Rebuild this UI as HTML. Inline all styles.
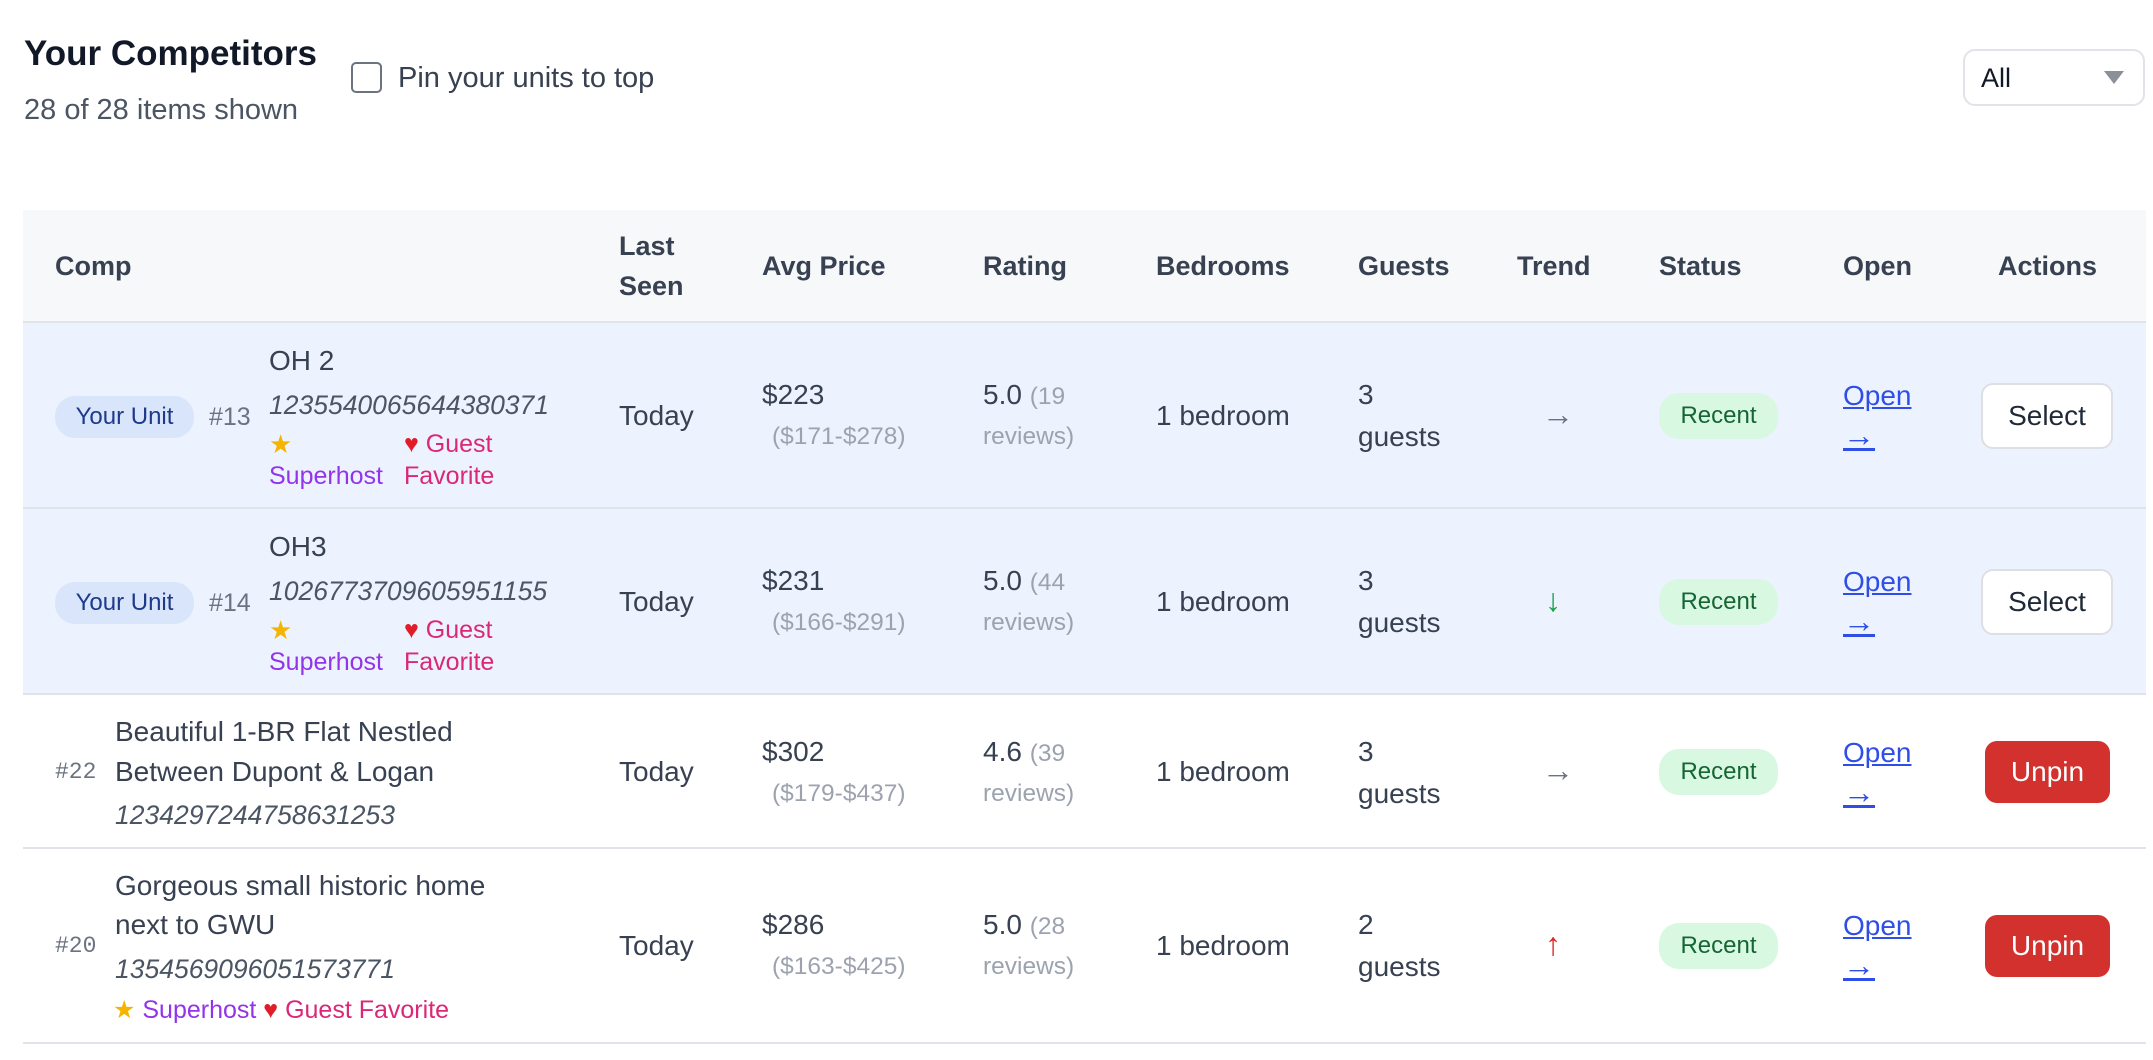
<!DOCTYPE html>
<html><head><meta charset="utf-8"><style>
body{margin:0;width:2153px;height:1060px;background:#fff;position:relative;overflow:hidden;font-family:"Liberation Sans",sans-serif;color:#374151}
.a{position:absolute;white-space:nowrap;line-height:40px;font-size:28px}
.h{font-weight:bold;color:#374151;font-size:27px}
.g{color:#9ca3af}
.i{font-style:italic;font-size:26.5px;color:#4b5563}
.sh{color:#9333ea;font-size:25px}
.gf{color:#db2777;font-size:25px}
.st{color:#f4b400}
.ht{color:#e11d2a}
.pill{position:absolute;border-radius:20px;text-align:center;font-size:24px;line-height:46px}
.lnk{color:#2f4ee8;text-decoration:underline}
.ar{font-size:32px}
.row{position:absolute;left:23px;width:2123px}
</style></head><body>
<div class="a" style="left:24px;top:34px;font-size:35px;font-weight:bold;color:#111827">Your Competitors</div>
<div class="a" style="left:24px;top:90px;font-size:29px;color:#4b5563">28 of 28 items shown</div>
<div style="position:absolute;left:351px;top:62px;width:27px;height:27px;border:2px solid #6b7280;border-radius:5px"></div>
<div class="a" style="left:398px;top:58px;font-size:29px;color:#374151">Pin your units to top</div>
<div style="position:absolute;left:1963px;top:49px;width:182px;height:57px;border:2px solid #e0e3e8;border-radius:12px;box-sizing:border-box"></div>
<div class="a" style="left:1981px;top:58px;font-size:27px;color:#111827">All</div>
<div style="position:absolute;left:2104px;top:71px;width:0;height:0;border-left:10px solid transparent;border-right:10px solid transparent;border-top:13px solid #8a8f98"></div>

<div class="row" style="top:210px;height:111px;background:#f7f8fa;border-bottom:2px solid #e0e3e8"></div>
<div class="row" style="top:323px;height:184px;background:#edf3fe;border-bottom:2px solid #e0e3e8"></div>
<div class="row" style="top:509px;height:184px;background:#edf3fe;border-bottom:2px solid #e0e3e8"></div>
<div class="row" style="top:695px;height:152px;border-bottom:2px solid #e0e3e8"></div>
<div class="row" style="top:849px;height:193px;border-bottom:2px solid #e0e3e8"></div>

<!-- header -->
<div class="a h" style="left:55px;top:246px">Comp</div>
<div class="a h" style="left:619px;top:226px">Last</div>
<div class="a h" style="left:619px;top:266px">Seen</div>
<div class="a h" style="left:762px;top:246px">Avg Price</div>
<div class="a h" style="left:983px;top:246px">Rating</div>
<div class="a h" style="left:1156px;top:246px">Bedrooms</div>
<div class="a h" style="left:1358px;top:246px">Guests</div>
<div class="a h" style="left:1517px;top:246px">Trend</div>
<div class="a h" style="left:1659px;top:246px">Status</div>
<div class="a h" style="left:1843px;top:246px">Open</div>
<div class="a h" style="left:1998px;top:246px">Actions</div>

<!-- row 1 -->
<div class="pill" style="left:55px;top:396px;width:139px;height:42px;line-height:42px;background:#d9e5fb;color:#1e3a8a">Your Unit</div>
<div class="a" style="left:209px;top:397px;font-size:25px;color:#6b7280">#13</div>
<div class="a" style="left:269px;top:341px">OH 2</div>
<div class="a i" style="left:269px;top:385px">1235540065644380371</div>
<div class="a st" style="left:269px;top:424px;font-size:26px">★</div>
<div class="a gf" style="left:404px;top:424px"><span class="ht">♥</span> Guest</div>
<div class="a sh" style="left:269px;top:456px">Superhost</div>
<div class="a gf" style="left:404px;top:456px">Favorite</div>
<div class="a" style="left:619px;top:396px">Today</div>
<div class="a" style="left:762px;top:375px">$223</div>
<div class="a g" style="left:772px;top:417px;font-size:24.5px">($171-$278)</div>
<div class="a" style="left:983px;top:375px">5.0 <span class="g" style="font-size:24.5px">(19</span></div>
<div class="a g" style="left:983px;top:417px;font-size:24.5px">reviews)</div>
<div class="a" style="left:1156px;top:396px">1 bedroom</div>
<div class="a" style="left:1358px;top:375px">3</div>
<div class="a" style="left:1358px;top:417px">guests</div>
<div class="a ar" style="left:1542px;top:394px;color:#6b7280">→</div>
<div class="pill" style="left:1659px;top:393px;width:119px;height:46px;background:#d9f8e2;color:#166534">Recent</div>
<div class="a lnk" style="left:1843px;top:376px">Open</div>
<div class="a lnk ar" style="left:1843px;top:415px">→</div>
<div class="pill" style="left:1981px;top:383px;width:132px;height:66px;line-height:62px;background:#fff;border:2px solid #dedfe3;box-sizing:border-box;border-radius:12px;font-size:28px;color:#1f2937">Select</div>

<!-- row 2 -->
<div class="pill" style="left:55px;top:582px;width:139px;height:42px;line-height:42px;background:#d9e5fb;color:#1e3a8a">Your Unit</div>
<div class="a" style="left:209px;top:583px;font-size:25px;color:#6b7280">#14</div>
<div class="a" style="left:269px;top:527px">OH3</div>
<div class="a i" style="left:269px;top:571px">1026773709605951155</div>
<div class="a st" style="left:269px;top:610px;font-size:26px">★</div>
<div class="a gf" style="left:404px;top:610px"><span class="ht">♥</span> Guest</div>
<div class="a sh" style="left:269px;top:642px">Superhost</div>
<div class="a gf" style="left:404px;top:642px">Favorite</div>
<div class="a" style="left:619px;top:582px">Today</div>
<div class="a" style="left:762px;top:561px">$231</div>
<div class="a g" style="left:772px;top:603px;font-size:24.5px">($166-$291)</div>
<div class="a" style="left:983px;top:561px">5.0 <span class="g" style="font-size:24.5px">(44</span></div>
<div class="a g" style="left:983px;top:603px;font-size:24.5px">reviews)</div>
<div class="a" style="left:1156px;top:582px">1 bedroom</div>
<div class="a" style="left:1358px;top:561px">3</div>
<div class="a" style="left:1358px;top:603px">guests</div>
<div class="a ar" style="left:1545px;top:580px;color:#16a34a">↓</div>
<div class="pill" style="left:1659px;top:579px;width:119px;height:46px;background:#d9f8e2;color:#166534">Recent</div>
<div class="a lnk" style="left:1843px;top:562px">Open</div>
<div class="a lnk ar" style="left:1843px;top:601px">→</div>
<div class="pill" style="left:1981px;top:569px;width:132px;height:66px;line-height:62px;background:#fff;border:2px solid #dedfe3;box-sizing:border-box;border-radius:12px;font-size:28px;color:#1f2937">Select</div>

<!-- row 3 -->
<div class="a" style="left:55px;top:752px;font-size:23px;color:#6b7280;font-family:'Liberation Mono',monospace">#22</div>
<div class="a" style="left:115px;top:712px">Beautiful 1-BR Flat Nestled</div>
<div class="a" style="left:115px;top:752px">Between Dupont &amp; Logan</div>
<div class="a i" style="left:115px;top:795px">1234297244758631253</div>
<div class="a" style="left:619px;top:752px">Today</div>
<div class="a" style="left:762px;top:732px">$302</div>
<div class="a g" style="left:772px;top:774px;font-size:24.5px">($179-$437)</div>
<div class="a" style="left:983px;top:732px">4.6 <span class="g" style="font-size:24.5px">(39</span></div>
<div class="a g" style="left:983px;top:774px;font-size:24.5px">reviews)</div>
<div class="a" style="left:1156px;top:752px">1 bedroom</div>
<div class="a" style="left:1358px;top:732px">3</div>
<div class="a" style="left:1358px;top:774px">guests</div>
<div class="a ar" style="left:1542px;top:750px;color:#6b7280">→</div>
<div class="pill" style="left:1659px;top:749px;width:119px;height:46px;background:#d9f8e2;color:#166534">Recent</div>
<div class="a lnk" style="left:1843px;top:733px">Open</div>
<div class="a lnk ar" style="left:1843px;top:772px">→</div>
<div class="pill" style="left:1985px;top:741px;width:125px;height:62px;line-height:62px;background:#d3312d;border-radius:12px;font-size:28px;color:#fff">Unpin</div>

<!-- row 4 -->
<div class="a" style="left:55px;top:926px;font-size:23px;color:#6b7280;font-family:'Liberation Mono',monospace">#20</div>
<div class="a" style="left:115px;top:866px">Gorgeous small historic home</div>
<div class="a" style="left:115px;top:905px">next to GWU</div>
<div class="a i" style="left:115px;top:949px">1354569096051573771</div>
<div class="a" style="left:113px;top:990px;font-size:25px"><span class="st">★</span><span class="sh"> Superhost</span> <span class="ht">♥</span><span class="gf"> Guest Favorite</span></div>
<div class="a" style="left:619px;top:926px">Today</div>
<div class="a" style="left:762px;top:905px">$286</div>
<div class="a g" style="left:772px;top:947px;font-size:24.5px">($163-$425)</div>
<div class="a" style="left:983px;top:905px">5.0 <span class="g" style="font-size:24.5px">(28</span></div>
<div class="a g" style="left:983px;top:947px;font-size:24.5px">reviews)</div>
<div class="a" style="left:1156px;top:926px">1 bedroom</div>
<div class="a" style="left:1358px;top:905px">2</div>
<div class="a" style="left:1358px;top:947px">guests</div>
<div class="a ar" style="left:1545px;top:924px;color:#dc2626">↑</div>
<div class="pill" style="left:1659px;top:923px;width:119px;height:46px;background:#d9f8e2;color:#166534">Recent</div>
<div class="a lnk" style="left:1843px;top:906px">Open</div>
<div class="a lnk ar" style="left:1843px;top:945px">→</div>
<div class="pill" style="left:1985px;top:915px;width:125px;height:62px;line-height:62px;background:#d3312d;border-radius:12px;font-size:28px;color:#fff">Unpin</div>
</body></html>
